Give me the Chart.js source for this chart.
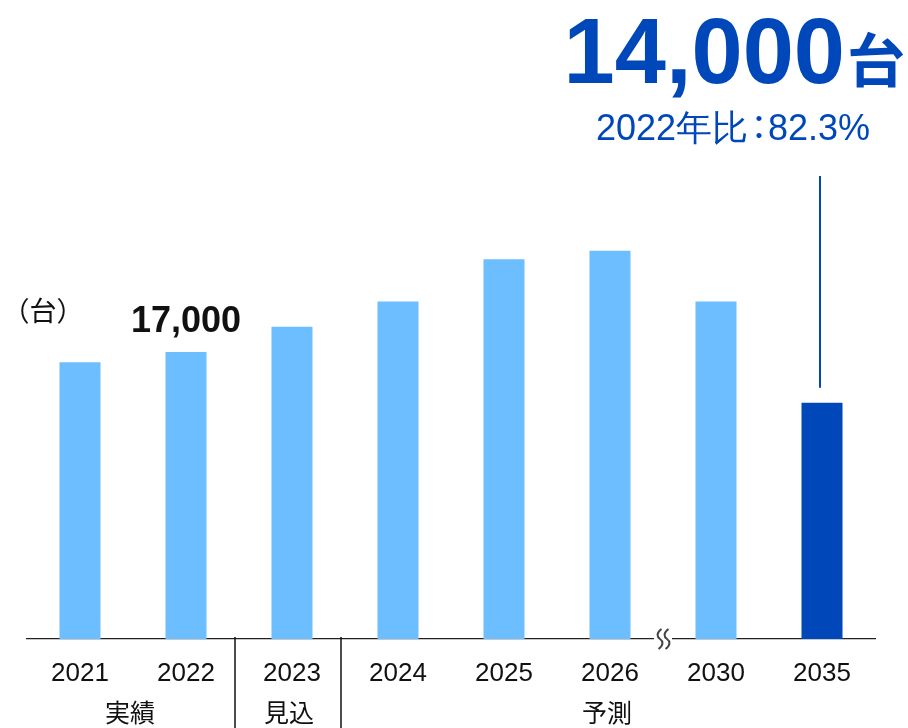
<!DOCTYPE html>
<html lang="ja">
<head>
<meta charset="utf-8">
<title>販売台数の推移</title>
<script src="https://cdn.jsdelivr.net/npm/chart.js@4/dist/chart.umd.min.js"></script>
<style>
  html, body { margin: 0; padding: 0; background: #fff; }
  #wrap { width: 908px; height: 728px; }
</style>
</head>
<body>
<div id="wrap"><canvas id="chart" width="908" height="728"></canvas></div>
<script>
// Years on the x axis and unit counts per year
const years = ['2021', '2022', '2023', '2024', '2025', '2026', '2030', '2035'];
const units = [16400, 17000, 18500, 20000, 22500, 23000, 20000, 14000];

// Period groups under the year labels (first and last category index)
const groupNames = ['実績', '見込', '予測'];
const groupStart = [0, 2, 3];
const groupEnd = [1, 2, 7];

// Highlighted bars and their labels
const baseIndex = 1;          // 2022
const targetIndex = 7;        // 2035
const ratioText = '2022年比：82.3%';
const unitName = '台';
const axisBreakAfter = 5;     // break between 2026 and 2030

const LIGHT = '#6DBEFF';
const DARK = '#0047B9';
const LATIN = '"Liberation Sans", Arial, sans-serif';
const CJK = '"Noto Sans CJK JP", "Liberation Sans", sans-serif';

const fmt = v => v.toLocaleString('en-US');

const annotations = {
  id: 'annotations',
  afterDraw(chart) {
    const ctx = chart.ctx;
    const x = chart.scales.x;
    const y = chart.scales.y;
    const area = chart.chartArea;
    const base = area.bottom;
    const cx = i => x.getPixelForValue(i);

    ctx.save();

    // axis break squiggle
    const xb = (cx(axisBreakAfter) + cx(axisBreakAfter + 1)) / 2;
    ctx.fillStyle = '#fff';
    ctx.fillRect(xb - 9, base - 3, 18, 6);
    ctx.strokeStyle = '#444';
    ctx.lineWidth = 2;
    [-3, 4].forEach(dx => {
      const x0 = xb + dx;
      ctx.beginPath();
      ctx.moveTo(x0 + 1.5, base - 10);
      ctx.bezierCurveTo(x0 - 4, base - 6, x0 - 3, base - 2, x0, base);
      ctx.bezierCurveTo(x0 + 3, base + 2, x0 + 4, base + 6, x0 - 1.5, base + 10);
      ctx.stroke();
    });

    // period dividers
    ctx.strokeStyle = '#111';
    ctx.lineWidth = 1.5;
    for (let g = 1; g < groupStart.length; g++) {
      const xd = (cx(groupStart[g] - 1) + cx(groupStart[g])) / 2 - 4;
      ctx.beginPath();
      ctx.moveTo(xd, base - 2);
      ctx.lineTo(xd, chart.height);
      ctx.stroke();
    }

    // period names
    ctx.fillStyle = '#111';
    ctx.font = '25px ' + CJK;
    ctx.textAlign = 'center';
    ctx.textBaseline = 'middle';
    groupNames.forEach((name, g) => {
      const xm = (cx(groupStart[g]) + cx(groupEnd[g])) / 2 - 3;
      ctx.fillText(name, xm, 712);
    });

    // unit caption
    ctx.font = '27px ' + CJK;
    ctx.fillText('（' + unitName + '）', 43, 311);

    // base year value
    const baseTop = y.getPixelForValue(units[baseIndex]);
    ctx.font = 'bold 36px ' + LATIN;
    ctx.textBaseline = 'alphabetic';
    ctx.fillText(fmt(units[baseIndex]), cx(baseIndex), baseTop - 20);

    // target year callout
    const tTop = y.getPixelForValue(units[targetIndex]);
    const lx = cx(targetIndex) - 2;
    ctx.strokeStyle = DARK;
    ctx.lineWidth = 2;
    ctx.beginPath();
    ctx.moveTo(lx, tTop - 15);
    ctx.lineTo(lx, 176);
    ctx.stroke();

    ctx.fillStyle = DARK;
    ctx.textAlign = 'right';
    ctx.font = 'bold 58px ' + CJK;
    const unitW = ctx.measureText(unitName).width;
    ctx.fillText(unitName, 905, 82);
    ctx.font = 'bold 92px ' + LATIN;
    ctx.fillText(fmt(units[targetIndex]), 905 - unitW - 2, 83);

    // comparison line, with a narrow colon slot
    const [left, right] = ratioText.split('：');
    ctx.font = '36px ' + LATIN;
    const wl = ctx.measureText(left).width;
    const wr = ctx.measureText(right).width;
    const slot = 20;
    const x0 = 733 - (wl + slot + wr) / 2;
    ctx.textAlign = 'left';
    ctx.fillText(left, x0, 140);
    ctx.fillText(right, x0 + wl + slot, 140);
    ctx.textAlign = 'center';
    ctx.font = '34px ' + CJK;
    ctx.fillText('：', x0 + wl + slot / 2 + 1, 140);

    ctx.restore();
  }
};

new Chart(document.getElementById('chart'), {
  type: 'bar',
  data: {
    labels: years,
    datasets: [{
      data: units,
      backgroundColor: units.map((_, i) => i === targetIndex ? DARK : LIGHT),
      borderWidth: 0,
      barPercentage: 0.387,
      categoryPercentage: 1
    }]
  },
  options: {
    responsive: false,
    devicePixelRatio: 1,
    animation: false,
    layout: { padding: { top: 217, left: 27, right: 33, bottom: 0 } },
    plugins: { legend: { display: false }, tooltip: { enabled: false } },
    scales: {
      y: { display: false, min: 0, max: 25000 },
      x: {
        grid: { display: false, drawTicks: false },
        border: { display: true, color: '#222', width: 1.3 },
        ticks: {
          color: '#111',
          font: { family: LATIN, size: 26 },
          padding: 19,
          maxRotation: 0,
          autoSkip: false
        },
        afterFit(scale) { scale.height = 89; }
      }
    }
  },
  plugins: [annotations]
});
</script>
</body>
</html>
